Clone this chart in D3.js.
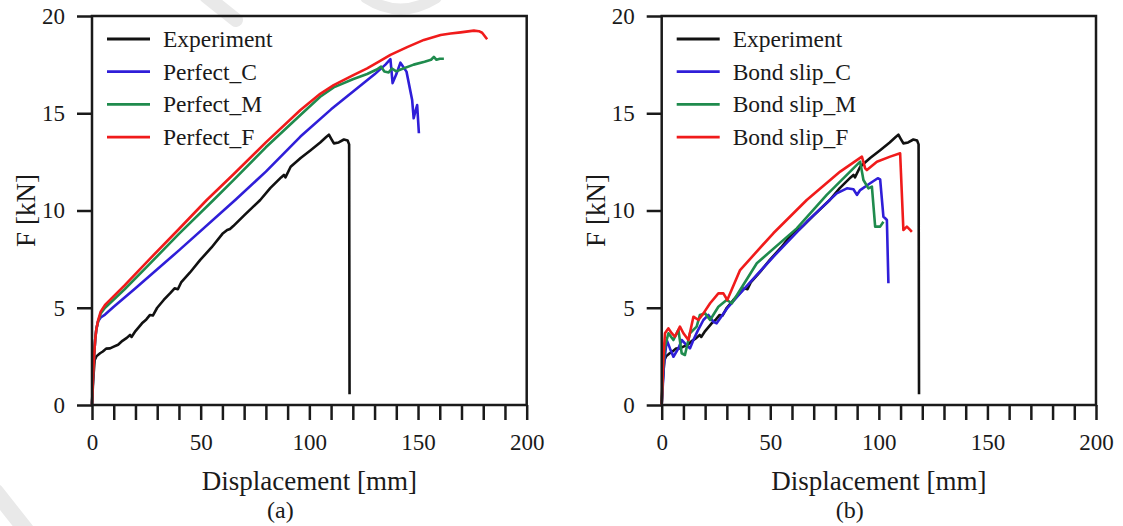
<!DOCTYPE html>
<html>
<head>
<meta charset="utf-8">
<script src="https://cdn.jsdelivr.net/npm/d3@7"></script>
<style>
  body { margin: 0; background: #fff; }
  svg { display: block; }
  svg text { font-family: "Liberation Serif", "Times New Roman", serif; fill: #1a1a1a; }
</style>
</head>
<body>
<svg id="chart" width="1123" height="526"></svg>
<script>
// ---- data: displacement [mm], force [kN] ----
const xTickLabels = [0, 50, 100, 150, 200];
const yTickLabels = [0, 5, 10, 15, 20];

const experiment = [
  [0,0],[0.5,1.2],[1.2,2.3],[2,2.5],[3.7,2.66],[5,2.75],[6.5,2.9],[8.3,2.91],[10,3.0],[12,3.1],
  [14,3.3],[16,3.45],[17.5,3.6],[18.2,3.5],[20,3.8],[23,4.2],[25,4.4],[26.7,4.63],[28,4.6],[30,5.0],
  [33,5.4],[36,5.75],[38,6.0],[39.5,5.95],[41,6.3],[45,6.8],[49.8,7.46],[55,8.1],[60,8.8],[62.2,9.0],
  [63.5,9.05],[65,9.2],[70,9.75],[77.4,10.54],[82,11.15],[87,11.7],[88.3,11.83],[89,11.7],[91.4,12.25],
  [96,12.7],[100.6,13.1],[105,13.5],[107.5,13.75],[109,13.9],[110,13.7],[111.3,13.45],[113.5,13.5],
  [115.9,13.65],[117.6,13.6],[118.3,13.4],[118.5,0.55]
];

const perfectC = [
  [0,0],[0.5,1.5],[1,2.6],[1.5,3.4],[2,3.9],[2.8,4.3],[4,4.5],[6,4.65],[10,5.05],[20,6.0],[40,7.95],
  [65.9,10.54],[80,12.0],[95.9,13.8],[110,15.2],[120,16.1],[130,17.0],[135,17.5],[137.3,17.78],
  [138.3,16.55],[140,17.0],[141.9,17.6],[144.7,17.14],[147.3,15.68],[148,14.74],[148.8,15.1],
  [149.6,15.42],[150.4,13.97]
];

const perfectM = [
  [0,0],[0.5,1.5],[1,2.6],[1.5,3.4],[2,3.9],[2.8,4.3],[4,4.7],[6,5.0],[9.8,5.4],[15,5.95],[25.2,7.1],
  [40,8.8],[55.9,10.54],[65,11.55],[80,13.25],[95.9,14.91],[105,15.85],[111.2,16.33],[120,16.75],
  [126.6,17.02],[131,17.25],[133,17.4],[134.5,17.15],[136.5,17.1],[138,17.3],[140,17.15],[142,17.25],
  [148,17.5],[153,17.65],[156,17.75],[157.3,17.9],[158.5,17.75],[160,17.8],[161.9,17.8]
];

const perfectF = [
  [0,0],[0.5,1.5],[1,2.6],[1.5,3.4],[2,3.9],[2.8,4.35],[4,4.8],[6,5.15],[9.8,5.57],[15,6.15],[25.2,7.35],
  [40,9.05],[52.8,10.54],[65,11.85],[80,13.5],[95.9,15.17],[105,16.0],[111.2,16.45],[120,16.95],
  [126.6,17.31],[132,17.65],[137.3,18.0],[145,18.4],[152.7,18.77],[160.4,19.02],[165,19.1],
  [169.6,19.16],[175.7,19.25],[178,19.22],[179.5,19.14],[181.8,18.8]
];

const bondSlipC = [
  [0,0],[1,2.0],[2.3,3.34],[3.8,2.91],[5.4,2.48],[7.7,2.91],[9.2,3.34],[11.5,3.08],[13,2.91],[14.6,3.34],
  [16.5,3.8],[19.2,4.37],[21.5,4.63],[23.8,4.28],[25.3,4.2],[30,4.95],[36.1,5.74],[51.4,7.62],[66.8,9.42],
  [80.6,10.88],[85.3,11.14],[88.3,11.09],[89.9,10.8],[91.4,11.05],[96,11.4],[99.5,11.66],[100.6,11.6],
  [102.1,9.68],[102.9,9.6],[103.7,9.51],[104.4,6.26]
];

const bondSlipM = [
  [0,0],[0.7,2.0],[1.5,3.0],[3.1,3.69],[5.4,3.34],[7.7,3.86],[9.2,2.66],[10.7,2.57],[13,3.69],[16.1,4.03],
  [17.6,4.63],[20,4.71],[22.3,4.37],[26.1,5.05],[29.9,5.4],[32.3,5.23],[43.8,7.29],[62.2,9.08],[76,10.8],
  [91.4,12.51],[92.9,11.57],[95.2,11.14],[96.8,11.23],[98.3,9.17],[100.6,9.17],[102.1,9.42]
];

const bondSlipF = [
  [0,0],[0.7,2.3],[1.5,3.69],[3.1,3.94],[4.6,3.69],[6.1,3.51],[8.4,4.03],[10,3.69],[12.3,3.34],[14.6,4.54],
  [16.9,4.37],[19.2,4.71],[22.3,5.23],[26.1,5.74],[28.4,5.74],[30.2,5.4],[36.1,6.94],[51.4,8.83],
  [66.8,10.54],[82.2,12.0],[92.2,12.77],[93.7,12.17],[94.5,12.08],[99.1,12.51],[105.2,12.77],[109.8,12.94],
  [111.3,9.0],[112.9,9.17],[114.4,9.0],[115.2,8.9]
];

const seriesColors = ["#111111", "#2f1ed8", "#1f8b4d", "#f01b1b"];

const panels = [
  { left: 92,    right: 526.7, caption: "(a)",
    series: [experiment, perfectC, perfectM, perfectF],
    names: ["Experiment", "Perfect_C", "Perfect_M", "Perfect_F"] },
  { left: 661.7, right: 1096,  caption: "(b)",
    series: [experiment, bondSlipC, bondSlipM, bondSlipF],
    names: ["Experiment", "Bond slip_C", "Bond slip_M", "Bond slip_F"] }
];

const plotTop = 16, plotBottom = 405;
const serifStack = '"Liberation Serif", "Times New Roman", serif';
const svg = d3.select("#chart");

// faint background watermark strokes of the page
const wm = svg.append("g").attr("fill", "none").attr("stroke", "#e9e9e9").attr("stroke-linecap", "round");
wm.append("path").attr("d", "M206,-4 L236,20").attr("stroke-width", 14);
wm.append("path").attr("d", "M366,-2 Q400,20 436,-2").attr("stroke-width", 11);
wm.append("path").attr("d", "M-4,492 L26,530").attr("stroke-width", 16);

panels.forEach(p => {
  const x = d3.scaleLinear().domain([0, 200]).range([p.left, p.right]);
  const y = d3.scaleLinear().domain([0, 20]).range([plotBottom, plotTop]);
  const g = svg.append("g").attr("font-family", serifStack);

  // x axis: ticks every 10 mm, labels every 50 mm
  const xAxis = d3.axisBottom(x)
    .tickValues(d3.range(0, 201, 10))
    .tickFormat(d => xTickLabels.includes(d) ? d : "")
    .tickSize(15).tickPadding(14);
  const gx = g.append("g").attr("transform", `translate(0,${plotBottom})`).call(xAxis);

  const yAxis = d3.axisLeft(y)
    .tickValues(yTickLabels)
    .tickSize(15).tickPadding(12);
  const gy = g.append("g").attr("transform", `translate(${p.left},0)`).call(yAxis);

  [gx, gy].forEach(a => {
    a.attr("font-family", serifStack);
    a.select(".domain").remove();
    a.selectAll(".tick line").attr("stroke", "#1a1a1a").attr("stroke-width", 2.5);
    a.selectAll(".tick text").attr("font-size", 23).attr("fill", "#1a1a1a");
  });

  // curves
  const line = d3.line().x(d => x(d[0])).y(d => y(d[1]));
  p.series.forEach((s, i) => {
    g.append("path").datum(s)
      .attr("fill", "none")
      .attr("stroke", seriesColors[i])
      .attr("stroke-width", 2.6)
      .attr("stroke-linejoin", "round")
      .attr("d", line);
  });

  // frame
  g.append("rect")
    .attr("x", p.left).attr("y", plotTop)
    .attr("width", p.right - p.left).attr("height", plotBottom - plotTop)
    .attr("fill", "none").attr("stroke", "#1a1a1a").attr("stroke-width", 2.5);

  // legend
  p.names.forEach((n, i) => {
    const ly = 39 + i * 32.7;
    g.append("line")
      .attr("x1", p.left + 15).attr("x2", p.left + 58)
      .attr("y1", ly).attr("y2", ly)
      .attr("stroke", seriesColors[i]).attr("stroke-width", 2.8);
    g.append("text")
      .attr("x", p.left + 71).attr("y", ly + 8)
      .attr("font-size", 23.5)
      .text(n);
  });

  // axis titles and caption
  const cx = (p.left + p.right) / 2;
  g.append("text")
    .attr("x", cx).attr("y", 490)
    .attr("text-anchor", "middle").attr("font-size", 27)
    .text("Displacement [mm]");
  g.append("text")
    .attr("transform", `translate(${p.left - 57},${(plotTop + plotBottom) / 2}) rotate(-90)`)
    .attr("text-anchor", "middle").attr("font-size", 27)
    .text("F [kN]");
  g.append("text")
    .attr("x", cx - 29).attr("y", 518)
    .attr("text-anchor", "middle").attr("font-size", 24)
    .text(p.caption);
});
</script>
</body>
</html>
